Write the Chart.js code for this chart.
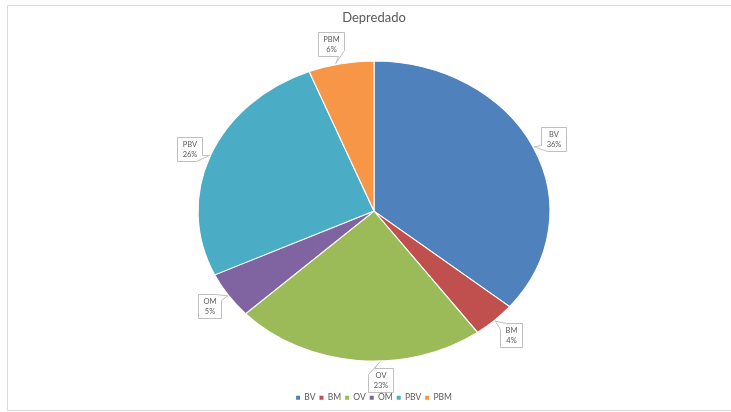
<!DOCTYPE html>
<html>
<head>
<meta charset="utf-8">
<script src="https://cdn.jsdelivr.net/npm/chart.js@4/dist/chart.umd.min.js"></script>
<style>
  html, body { margin: 0; padding: 0; background: #ffffff; }
  #wrap { width: 731px; height: 412px; position: relative; }
</style>
</head>
<body>
<div id="wrap"><canvas id="c" width="731" height="412"></canvas></div>
<script>
// Chart data
const chartTitle = 'Depredado';
const categories = ['BV', 'BM', 'OV', 'OM', 'PBV', 'PBM'];
const shares = [36, 4, 23, 5, 26, 6];           // percent of total

// Slice colours (Office palette)
const sliceColors = ['#4F81BD', '#C0504D', '#9BBB59', '#8064A2', '#4BACC6', '#F79646'];

const FONT = 'Lato, "Open Sans", "DejaVu Sans", sans-serif';
const TEXT_GRAY = '#595959';

// The pie is drawn as an ellipse: stretch the dataset layer horizontally
const stretchPie = {
  id: 'stretchPie',
  beforeDatasetsDraw(chart, args, opts) {
    const arc = chart.getDatasetMeta(0).data[0];
    const ctx = chart.ctx;
    ctx.save();
    ctx.translate(arc.x, arc.y);
    ctx.scale(opts.scaleX, 1);
    ctx.translate(-arc.x, -arc.y);
  },
  afterDatasetsDraw(chart) {
    chart.ctx.restore();
  }
};

// Thin frame along the top, left and bottom edges
const frame = {
  id: 'frame',
  beforeDraw(chart) {
    const ctx = chart.ctx;
    ctx.save();
    ctx.strokeStyle = '#d9d9d9';
    ctx.lineWidth = 1;
    ctx.beginPath();
    ctx.moveTo(731, 5.5); ctx.lineTo(7.5, 5.5); ctx.lineTo(7.5, 410.5); ctx.lineTo(731, 410.5);
    ctx.stroke();
    ctx.restore();
  }
};

// Callout data labels ("BV" / "36%") with a pointer towards the slice
const callouts = {
  id: 'callouts',
  afterDraw(chart, args, opts) {
    const ctx = chart.ctx;
    const meta = chart.getDatasetMeta(0);
    const sx = chart.options.plugins.stretchPie.scaleX;
    const lineH = 9.5;
    ctx.save();
    ctx.font = '7.5px ' + FONT;
    meta.data.forEach((arc, i) => {
      const p = arc.getProps(['x', 'y', 'startAngle', 'endAngle', 'outerRadius'], true);
      const cx = p.x, cy = p.y;
      const rx = p.outerRadius * sx, ry = p.outerRadius;
      const mid = (p.startAngle + p.endAngle) / 2;
      const ex = cx + rx * Math.cos(mid), ey = cy + ry * Math.sin(mid);
      let ux = ex - cx, uy = ey - cy;
      const len = Math.hypot(ux, uy); ux /= len; uy /= len;

      const lines = [categories[i], shares[i] + '%'];
      const tw = Math.max(...lines.map(s => ctx.measureText(s).width));
      const bw = Math.round(tw + 10), bh = 24;
      const ext = Math.abs(ux) * bw / 2 + Math.abs(uy) * bh / 2;
      const shift = opts.shift[categories[i]] || [0, 0];
      const bcx = ex + ux * (opts.gap + ext) + shift[0];
      const bcy = ey + uy * (opts.gap + ext) + shift[1];
      const x0 = Math.round(bcx - bw / 2) + 0.5, y0 = Math.round(bcy - bh / 2) + 0.5;
      const x1 = x0 + bw, y1 = y0 + bh;

      // pointer tip: slice edge in the direction of the box, kept inside the slice
      let a = Math.atan2((bcy - cy) / ry, (bcx - cx) / rx);
      while (a < p.startAngle) a += Math.PI * 2;
      while (a > p.startAngle + Math.PI * 2) a -= Math.PI * 2;
      const pad = Math.min(0.05, (p.endAngle - p.startAngle) / 4);
      if (a > p.endAngle - pad) {
        const dEnd = a - p.endAngle, dStart = p.startAngle + Math.PI * 2 - a;
        a = dEnd < dStart ? p.endAngle - pad : p.startAngle + pad;
      }
      a = Math.max(p.startAngle + pad, a);
      const tx = cx + (rx + 1) * Math.cos(a), ty = cy + (ry + 1) * Math.sin(a);

      // corner nearest to the tip gets the pointer
      const corners = [[x0, y0], [x1, y0], [x1, y1], [x0, y1]];
      let k = 0, best = Infinity;
      corners.forEach((c, j) => {
        const d = Math.hypot(c[0] - tx, c[1] - ty);
        if (d < best) { best = d; k = j; }
      });
      const t = 6;
      ctx.beginPath();
      corners.forEach((c, j) => {
        if (j === k) {
          const prev = corners[(j + 3) % 4], next = corners[(j + 1) % 4];
          const pl = Math.hypot(prev[0] - c[0], prev[1] - c[1]);
          const nl = Math.hypot(next[0] - c[0], next[1] - c[1]);
          const bx = c[0] + (prev[0] - c[0]) * t / pl, by = c[1] + (prev[1] - c[1]) * t / pl;
          const ax = c[0] + (next[0] - c[0]) * t / nl, ay = c[1] + (next[1] - c[1]) * t / nl;
          if (j === 0) ctx.moveTo(bx, by); else ctx.lineTo(bx, by);
          ctx.lineTo(tx, ty);
          ctx.lineTo(ax, ay);
        } else {
          if (j === 0) ctx.moveTo(c[0], c[1]); else ctx.lineTo(c[0], c[1]);
        }
      });
      ctx.closePath();
      ctx.fillStyle = '#ffffff';
      ctx.fill();
      ctx.strokeStyle = '#bfbfbf';
      ctx.lineWidth = 1;
      ctx.stroke();

      ctx.fillStyle = TEXT_GRAY;
      ctx.textAlign = 'center';
      ctx.textBaseline = 'middle';
      ctx.fillText(lines[0], (x0 + x1) / 2, (y0 + y1) / 2 - lineH / 2);
      ctx.fillText(lines[1], (x0 + x1) / 2, (y0 + y1) / 2 + lineH / 2);
    });
    ctx.restore();
  }
};

const baseLabels = (Chart.overrides.doughnut && Chart.overrides.doughnut.plugins.legend.labels.generateLabels);

new Chart(document.getElementById('c'), {
  type: 'pie',
  data: {
    labels: categories,
    datasets: [{
      data: shares,
      backgroundColor: sliceColors,
      borderColor: '#ffffff',
      borderWidth: 1,
      radius: 150,
      clip: false
    }]
  },
  plugins: [frame, stretchPie, callouts],
  options: {
    responsive: false,
    animation: false,
    events: [],
    layout: { padding: { left: 100, right: 83, top: 0, bottom: 0 } },
    plugins: {
      stretchPie: { scaleX: 1.1733 },
      callouts: { gap: 6, shift: { OV: [25, 0], PBM: [-6, 0] } },
      tooltip: { enabled: false },
      title: {
        display: true,
        text: chartTitle,
        color: TEXT_GRAY,
        font: { family: FONT, size: 13, weight: 'normal' },
        padding: { top: 10, bottom: 7 }
      },
      legend: {
        display: true,
        position: 'bottom',
        labels: {
          color: TEXT_GRAY,
          font: { family: FONT, size: 8.5 },
          boxWidth: 4,
          boxHeight: 4,
          padding: 4,
          generateLabels(chart) {
            const items = baseLabels(chart);
            items.forEach(it => { it.strokeStyle = it.fillStyle; it.lineWidth = 0; });
            return items;
          }
        }
      }
    }
  }
});
</script>
</body>
</html>
